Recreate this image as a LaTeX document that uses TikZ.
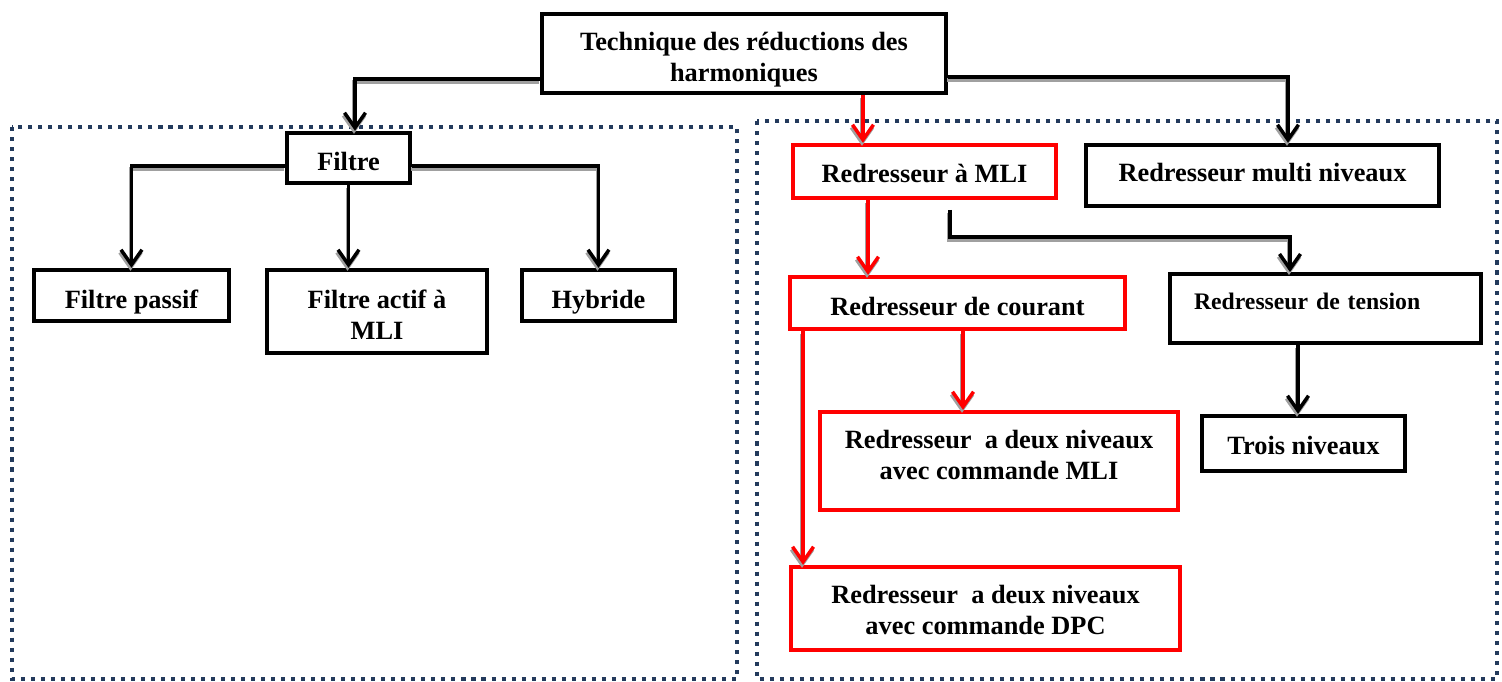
\documentclass[tikz,border=0pt]{standalone}
\usepackage{fontspec}
\setmainfont{Liberation Serif}
\usetikzlibrary{arrows.meta}
\definecolor{framecol}{RGB}{35,58,92}
\definecolor{shadecol}{RGB}{160,160,160}
\newcommand{\hstrut}{\rule{0pt}{0.63cm}}
\tikzset{
  box/.style={draw=black,line width=2.5pt,fill=white,align=center,inner sep=2pt,
    font=\bfseries\fontsize{15}{17.6}\selectfont,
    execute at begin node={\hstrut},
    execute at end node={\rule[-0.12cm]{0pt}{0pt}}},
  redbox/.style={box,draw=red},
  lift/.style={execute at end node={\rule[-#1]{0pt}{0pt}}},
  conn/.style={line width=2pt,-{Straight Barb[length=0.3cm,width=0.42cm]},
    preaction={draw=shadecol,line width=2.2pt,transform canvas={shift={(-0.02cm,-0.06cm)}}}},
  redconn/.style={conn,draw=red},
  frame/.style={draw=framecol,line width=2.3pt,dash pattern=on 2.3pt off 3.4pt}
}
\begin{document}
\begin{tikzpicture}[x=0.02cm,y=-0.02cm]
\useasboundingbox (0,0) rectangle (1502,682);
%frames
\draw[frame] (12,127) rectangle (737,679);
\draw[frame] (757,121) rectangle (1497,679);
%boxes
\node[box,minimum width=8.08cm,minimum height=1.58cm] (top) at (744,53.5) {\hstrut Technique des réductions des\\harmoniques};
\node[box,minimum width=2.46cm,minimum height=1cm] (filtre) at (348.5,158) {Filtre};
\node[box,minimum width=3.9cm,minimum height=1.02cm] (passif) at (131.5,295.5) {Filtre passif};
\node[box,minimum width=4.4cm,minimum height=1.66cm] (actif) at (377,311.5) {\hstrut Filtre actif à\\MLI};
\node[box,minimum width=3.06cm,minimum height=1.02cm] (hybride) at (598.5,295.5) {Hybride};
\node[redbox,minimum width=5.26cm,minimum height=1.06cm,lift=0.2cm] (mli) at (924.5,171.5) {Redresseur à MLI};
\node[box,minimum width=7.06cm,minimum height=1.22cm,lift=0.38cm] (multi) at (1262.5,175.5) {Redresseur multi niveaux};
\node[redbox,minimum width=6.7cm,minimum height=1.04cm] (courant) at (957.5,303) {Redresseur de courant};
\node[box,text width=5.26cm,inner xsep=0.48cm,align=left,minimum height=1.34cm,lift=0.6cm,
  font=\bfseries\fontsize{13.5}{16}\selectfont] (tension) at (1325.5,308.5) {Redresseur de tension};
\node[box,minimum width=4.06cm,minimum height=1.1cm,lift=0.2cm] (trois) at (1303.5,443.5) {Trois niveaux};
\node[redbox,minimum width=7.16cm,minimum height=1.96cm,lift=0.5cm] (deuxmli) at (999,461) {\hstrut Redresseur~~a deux niveaux\\avec commande MLI};
\node[redbox,minimum width=7.78cm,minimum height=1.66cm,lift=0.2cm] (deuxdpc) at (985.5,608.5) {\hstrut Redresseur~~a deux niveaux\\avec commande DPC};
%connections
\coordinate (tap) at (950,210);
\coordinate (bend) at (950,237);
\draw[conn] ([yshift=-0.51cm]top.west) -| ([xshift=0.13cm]filtre.north);
\draw[conn] ([yshift=-0.47cm]top.east) -| ([xshift=0.51cm]multi.north);
\draw[redconn] ([xshift=2.38cm]top.south) -- ([xshift=2.38cm]top.south |- mli.north);
\draw[conn] ([yshift=-0.16cm]filtre.west) -| (passif.north);
\draw[conn] ([yshift=-0.16cm]filtre.east) -| (hybride.north);
\draw[conn] (filtre.south) -- (filtre.south |- actif.north);
\draw[redconn] ([xshift=-1.13cm]mli.south) -- ([xshift=-1.13cm]mli.south |- courant.north);
\draw[conn] (tap) -- (bend) -| ([xshift=-0.71cm]tension.north);
\draw[redconn] ([xshift=0.11cm]courant.south) -- ([xshift=0.11cm]courant.south |- deuxmli.north);
\draw[redconn] ([xshift=-3.09cm]courant.south) -- ([xshift=-3.09cm]courant.south |- deuxdpc.north);
\draw[conn] ([xshift=-0.55cm]tension.south) -- ([xshift=-0.55cm]tension.south |- trois.north);
\end{tikzpicture}
\end{document}
